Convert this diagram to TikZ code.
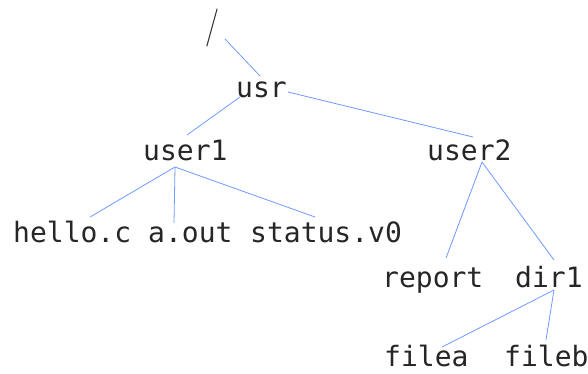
\documentclass[tikz,border=0pt]{standalone}
\usepackage{fontspec}
\setmonofont{DejaVu Sans Mono}
\begin{document}
\begin{tikzpicture}[x=1pt,y=-1pt,
  lbl/.style={font=\ttfamily\fontsize{28}{28}\selectfont, inner sep=0pt, anchor=base west, text=black!85},
  edge/.style={draw={rgb,255:red,110;green,155;blue,255}, line width=0.8pt}]
\useasboundingbox (0,0) rectangle (588,373);
\node[inner sep=0pt, anchor=base, text=black!85, font=\rmfamily\fontsize{38}{38}\selectfont, xscale=0.8] (slash) at (212,37) {/};
\node[lbl] (usr) at (236,97) {usr};
\node[lbl] (user1) at (143,160) {user1};
\node[lbl] (user2) at (427,160) {user2};
\node[lbl] (hello) at (13,242) {hello.c};
\node[lbl] (aout) at (148,242) {a.out};
\node[lbl] (status) at (250,242) {status.v0};
\node[lbl] (report) at (382,287) {report};
\node[lbl] (dir1) at (515,287) {dir1};
\node[lbl] (filea) at (384,366) {filea};
\node[lbl] (fileb) at (504,366) {fileb};
% connectors (endpoints relative to node base points)
\draw[edge] ([shift={(13,2)}]slash.base) -- ([shift={(24,-21)}]usr.base west);
\draw[edge] ([shift={(4,0)}]usr.base west) -- ([shift={(44,-25)}]user1.base west);
\draw[edge] ([shift={(52,-5)}]usr.base west) -- ([shift={(46,-23)}]user2.base west);
\draw[edge] ([shift={(32,7)}]user1.base west) -- ([shift={(77,-25)}]hello.base west);
\draw[edge] ([shift={(32,7)}]user1.base west) -- ([shift={(26,-19)}]aout.base west);
\draw[edge] ([shift={(32,7)}]user1.base west) -- ([shift={(65,-25)}]status.base west);
\draw[edge] ([shift={(55,2)}]user2.base west) -- ([shift={(64,-29)}]report.base west);
\draw[edge] ([shift={(55,2)}]user2.base west) -- ([shift={(39,-27)}]dir1.base west);
\draw[edge] ([shift={(39,3)}]dir1.base west) -- ([shift={(58,-19)}]filea.base west);
\draw[edge] ([shift={(39,3)}]dir1.base west) -- ([shift={(42,-26)}]fileb.base west);
\end{tikzpicture}
\end{document}
